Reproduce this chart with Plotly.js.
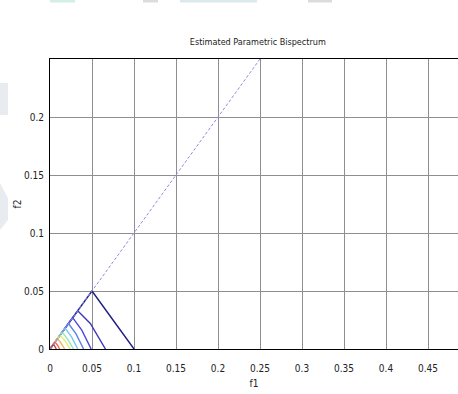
<!DOCTYPE html>
<html>
<head>
<meta charset="utf-8">
<script src="https://cdn.plot.ly/plotly-3.0.1.min.js"></script>
<style>
  html, body { margin: 0; padding: 0; background: #ffffff; }
  #chart { width: 458px; height: 394px; }
</style>
</head>
<body>
<div id="chart"></div>
<script>
// Axis ticks (normalised frequency)
const f1Ticks = [0, 0.05, 0.1, 0.15, 0.2, 0.25, 0.3, 0.35, 0.4, 0.45];
const f2Ticks = [0, 0.05, 0.1, 0.15, 0.2];

// Symmetry line f1 = f2 bounding the principal region
const diagF1 = [0, 0.25];
const diagF2 = [0, 0.25];

// Contour lines of |B(f1,f2)|, outermost (lowest level) first
const contourF1 = [
  [0, 0.05, 0.075, 0.1],
  [0, 0.033, 0.048, 0.066],
  [0, 0.027, 0.038, 0.049],
  [0, 0.022, 0.031, 0.040],
  [0, 0.018, 0.026, 0.033],
  [0, 0.0145, 0.021, 0.028],
  [0, 0.012, 0.018, 0.024],
  [0, 0.009, 0.013, 0.0175],
  [0, 0.006, 0.0088, 0.0115],
  [0, 0.004, 0.0058, 0.0075]
];
const contourF2 = [
  [0, 0.05, 0.025, 0],
  [0, 0.033, 0.022, 0],
  [0, 0.027, 0.016, 0],
  [0, 0.022, 0.013, 0],
  [0, 0.018, 0.010, 0],
  [0, 0.0145, 0.0085, 0],
  [0, 0.012, 0.0068, 0],
  [0, 0.009, 0.0052, 0],
  [0, 0.006, 0.0035, 0],
  [0, 0.004, 0.0022, 0]
];

// jet-like colours for the contour levels
const levelColors = [
  '#1e1e80', '#3838b8', '#4a4ad8', '#5c80ec', '#78c8f0',
  '#98e8b4', '#e4ec78', '#f4b45c', '#ec6c5c', '#c44040'
];

const traces = [];
for (let i = 0; i < contourF1.length; i++) {
  traces.push({
    type: 'scatter', mode: 'lines',
    x: contourF1[i], y: contourF2[i],
    line: { color: levelColors[i], width: 1.4 },
    hoverinfo: 'skip', showlegend: false
  });
}
traces.push({
  type: 'scatter', mode: 'lines',
  x: diagF1, y: diagF2,
  line: { color: '#8c8ce4', width: 1, dash: '3px,2px' },
  hoverinfo: 'skip', showlegend: false
});

const family = '"Liberation Sans Narrow", "DejaVu Sans Condensed", "Liberation Sans", sans-serif';
const font = { family: family, size: 10, color: '#222' };
const titleFont = { family: family, size: 9, color: '#222' };

// pixel helpers for the page-edge marks
function px(x) { return (x - 50) / 408; }
function py(y) { return (349 - y) / 290; }

const layout = {
  width: 458, height: 394,
  margin: { l: 50, r: 0, t: 59, b: 45 },
  paper_bgcolor: '#ffffff', plot_bgcolor: '#ffffff',
  font: font,
  title: {
    text: 'Estimated Parametric Bispectrum',
    font: titleFont,
    xref: 'container', yref: 'container',
    x: 0.563, y: 1 - 42 / 394, xanchor: 'center', yanchor: 'middle'
  },
  xaxis: {
    range: [0, 0.4857], tickvals: f1Ticks,
    showgrid: true, gridcolor: '#8e8e8e', gridwidth: 1,
    zeroline: false, showline: true, linecolor: '#000', linewidth: 1, mirror: true,
    ticks: '', tickfont: font, ticklabelstandoff: 10,
    title: { text: 'f1', font: font, standoff: 6 }
  },
  yaxis: {
    range: [0, 0.25], tickvals: f2Ticks,
    showgrid: true, gridcolor: '#8e8e8e', gridwidth: 1,
    zeroline: false, showline: true, linecolor: '#000', linewidth: 1, mirror: false,
    ticks: '', tickfont: font, ticklabelstandoff: 3,
    title: { text: 'f2', font: font, standoff: 0 }
  },
  shapes: [
    { type: 'rect', xref: 'paper', yref: 'paper', x0: px(50), x1: px(75), y0: py(2.5), y1: py(0), fillcolor: '#d2efe6', line: { width: 0 }, layer: 'below' },
    { type: 'rect', xref: 'paper', yref: 'paper', x0: px(143), x1: px(158), y0: py(2.5), y1: py(0), fillcolor: '#dcdcdc', line: { width: 0 }, layer: 'below' },
    { type: 'rect', xref: 'paper', yref: 'paper', x0: px(180), x1: px(257), y0: py(2.5), y1: py(0), fillcolor: '#dbe9ef', line: { width: 0 }, layer: 'below' },
    { type: 'rect', xref: 'paper', yref: 'paper', x0: px(308), x1: px(332), y0: py(2.5), y1: py(0), fillcolor: '#dcdcdc', line: { width: 0 }, layer: 'below' },
    { type: 'rect', xref: 'paper', yref: 'paper', x0: px(0), x1: px(8), y0: py(115), y1: py(83), fillcolor: '#e8ecf1', line: { width: 0 }, layer: 'below' },
    { type: 'path', xref: 'paper', yref: 'paper',
      path: 'M ' + px(0) + ' ' + py(183) + ' L ' + px(8) + ' ' + py(198) + ' L ' + px(8) + ' ' + py(220) + ' L ' + px(0) + ' ' + py(230) + ' Z',
      fillcolor: '#e8ecf1', line: { width: 0 }, layer: 'below' }
  ]
};

Plotly.newPlot('chart', traces, layout, { staticPlot: true, displayModeBar: false });
</script>
</body>
</html>
